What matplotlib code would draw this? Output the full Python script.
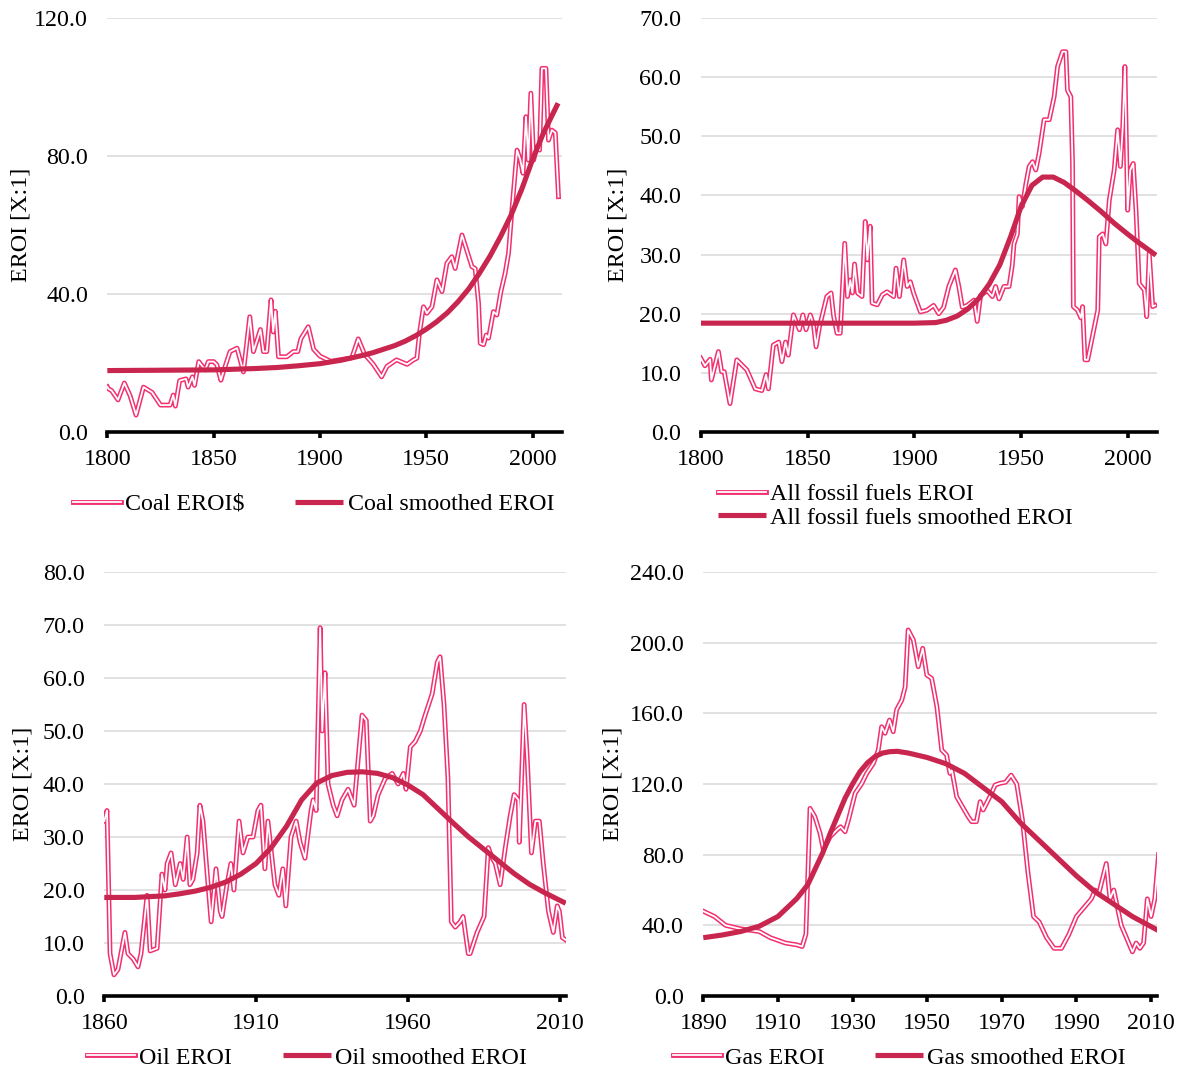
import matplotlib.pyplot as plt
import matplotlib.patheffects as pe
from matplotlib.ticker import FormatStrFormatter

plt.rcParams['font.family'] = ['Liberation Serif', 'DejaVu Serif']

RAW = '#f2306f'
SMOOTH = '#c8264f'
FS = 17.3

# ---- Coal ----
coal_years = [1800, 1800.5, 1802, 1805, 1808, 1810.7, 1813.5, 1817, 1821, 1825, 1829.5, 1831, 1832,
              1834, 1837, 1838, 1840, 1841, 1843, 1846, 1847.5, 1850, 1851.5, 1853.4, 1854.6, 1857.7,
              1861, 1864, 1867, 1868.7, 1870, 1872, 1873.4, 1875, 1877, 1878, 1879, 1880.5, 1884.4,
              1887.5, 1889.6, 1891, 1894.5, 1897, 1900, 1905, 1910, 1915, 1918, 1921, 1925, 1929,
              1931.5, 1936, 1941, 1944, 1945.6, 1946.8, 1948.7, 1950.3, 1952.7, 1955, 1957.4, 1959.7,
              1962, 1963.6, 1966.8, 1969, 1971.5, 1973, 1974.6, 1975.4, 1977, 1978.2, 1979.3, 1981.6,
              1983.2, 1985.1, 1987.1, 1988.7, 1990.3, 1992.7, 1994.2, 1995.5, 1996.9, 1998, 1999.2,
              2000.5, 2002, 2003.3, 2004.4, 2006.3, 2007.5, 2009.1, 2010.7, 2012.2]
coal_eroi = [13.1, 12.5, 12.0, 9.3, 14.2, 10.5, 4.9, 13.0, 11.5, 7.8, 7.8, 10.7, 7.5,
             14.9, 15.4, 13.0, 16.0, 13.5, 20.4, 18.0, 20.4, 20.4, 19.5, 15.0, 17.5, 23.3,
             24.3, 17.4, 33.4, 23.3, 25.8, 29.7, 23.3, 23.3, 38.3, 29.0, 35.0, 21.8, 21.8,
             23.3, 23.3, 27.0, 30.5, 24.0, 22.0, 20.5, 21.0, 21.5, 27.0, 22.5, 19.7, 16.0,
             19.0, 20.9, 19.6, 20.9, 21.4, 28.6, 36.3, 34.4, 36.3, 44.1, 40.7, 48.9,
             50.8, 47.4, 57.1, 52.8, 47.9, 47.4, 37.3, 25.7, 25.3, 28.1, 27.2, 34.9,
             33.9, 40.7, 46.0, 51.8, 64.3, 81.7, 79.0, 75.0, 91.4, 78.8, 98.2,
             78.8, 82.7, 81.7, 105.4, 105.4, 84.6, 87.5, 86.7, 68.2]
coal_smooth_years = [1800, 1850, 1870, 1880, 1890, 1900, 1910, 1920, 1925, 1930, 1935, 1940,
                     1945, 1950, 1955, 1960, 1965, 1970, 1975, 1980, 1985, 1990, 1995, 2000,
                     2005, 2010, 2012]
coal_smooth = [17.8, 18.0, 18.4, 18.7, 19.2, 19.8, 20.8, 22.2, 23.0, 24.0, 25.0, 26.3,
               27.9, 29.8, 32.0, 34.6, 37.8, 41.5, 46.0, 51.0, 56.7, 63.0, 70.5, 79.0,
               86.5, 92.8, 95.3]

# ---- All fossil fuels ----
fossil_years = [1800, 1802, 1804.4, 1805, 1808.3, 1809.8, 1811, 1813.7, 1816.9, 1821.6, 1825.5,
                1828.6, 1830.6, 1831.7, 1834, 1836.5, 1838, 1839.7, 1841, 1843.4, 1846.2, 1847.8,
                1849.3, 1851.3, 1852.8, 1854, 1855.6, 1859, 1861, 1862.2, 1863.8, 1865.3, 1867.4,
                1868.7, 1870, 1871, 1872, 1873.4, 1875.5, 1877, 1878, 1879.3, 1880.2, 1882.6,
                1885, 1887.2, 1890.3, 1891.4, 1893, 1895, 1896.6, 1898.1, 1899.7, 1902.8, 1905.9,
                1909, 1911.4, 1913.7, 1916.1, 1919.2, 1920.8, 1922.4, 1924.7, 1927.9, 1929.4,
                1931, 1934.1, 1936.5, 1938, 1939.6, 1941.9, 1944.3, 1945.8, 1946.6, 1948.2, 1949,
                1950.5, 1952.1, 1953.7, 1955.3, 1956.8, 1958.4, 1960.7, 1963.1, 1965.4, 1967,
                1969.3, 1970.9, 1971.6, 1973.2, 1974, 1974.4, 1976.3, 1977.9, 1978.7, 1979.8,
                1981.1, 1985.8, 1986.5, 1988.1, 1989.6, 1991.2, 1993.5, 1995.1, 1996.4, 1997.5,
                1998.5, 1999.8, 2001, 2002.4, 2003.7, 2005.2, 2007.6, 2008.7, 2009.9, 2011.5, 2012.6]
fossil_eroi = [12.5, 11.2, 12.3, 8.8, 13.6, 10.2, 10.2, 4.8, 12.2, 10.5, 7.3,
               7.0, 9.7, 7.3, 14.7, 15.2, 11.9, 15.2, 13.0, 19.8, 17.3, 19.8,
               17.3, 19.8, 18.1, 14.4, 17.8, 22.9, 23.5, 19.6, 16.7, 16.7, 31.9,
               22.9, 25.7, 23.5, 28.4, 23.5, 22.9, 35.6, 29.1, 34.8, 21.8, 21.5,
               23.2, 23.7, 22.9, 27.7, 22.9, 29.1, 24.6, 25.4, 23.4, 20.3, 20.6,
               21.4, 20.0, 21.1, 24.6, 27.4, 24.6, 21.1, 21.4, 22.3, 18.7,
               23.1, 23.9, 22.9, 24.6, 22.5, 24.6, 24.6, 28.2, 31.8, 33.5, 39.8,
               38.1, 41.8, 44.9, 45.7, 44.3, 47.2, 52.8, 52.8, 56.7, 61.8,
               64.3, 64.3, 57.8, 56.7, 45.4, 21.2, 20.6, 19.3, 21.2, 12.2,
               12.2, 20.6, 33.0, 33.5, 31.8, 39.2, 44.3, 51.1, 44.9, 51.6,
               61.8, 37.5, 44.3, 45.4, 37.5, 25.1, 24.0, 19.5, 30.2, 21.2, 21.4]
fossil_smooth_years = [1800, 1850, 1900, 1910, 1915, 1920, 1925, 1930, 1935, 1940, 1945, 1950,
                       1955, 1960, 1965, 1970, 1975, 1981, 1987, 1993.5, 2000, 2005, 2013]
fossil_smooth = [18.4, 18.4, 18.4, 18.5, 18.9, 19.6, 20.8, 22.5, 25.0, 28.3, 33.0, 38.2,
                 41.7, 43.1, 43.1, 42.2, 40.9, 39.2, 37.4, 35.3, 33.4, 32.0, 29.9]

# ---- Oil ----
oil_years = [1860, 1860.9, 1861.9, 1863.2, 1864.5, 1866.8, 1867.8, 1869.5, 1871.1, 1872.1, 1874.1,
             1875.1, 1877.4, 1879, 1880, 1880.7, 1882, 1883.4, 1885, 1886, 1887.3, 1888.2, 1889.2,
             1890.6, 1891.5, 1892.5, 1893.9, 1895.2, 1896.8, 1898.2, 1898.8, 1900.4, 1901.7, 1902.7,
             1904.4, 1905.7, 1907.3, 1909, 1910.6, 1911.6, 1912.9, 1913.9, 1916.2, 1917.5, 1918.8,
             1919.8, 1921.5, 1923.2, 1924.5, 1926.1, 1928.1, 1928.8, 1929.8, 1931.1, 1931.8, 1932.7,
             1933.7, 1935.4, 1936.7, 1938.3, 1940.3, 1942.3, 1944.9, 1946.3, 1947.6, 1948.6, 1950.2,
             1952.5, 1954.8, 1956.8, 1958.5, 1959.4, 1960.8, 1962.4, 1964.1, 1965.7, 1968, 1969.7,
             1970.6, 1971.9, 1973.2, 1974.3, 1975.6, 1977.2, 1978.2, 1979.9, 1980.5, 1982.8, 1985.1,
             1986.5, 1987.8, 1988.8, 1990.4, 1992.1, 1993.7, 1995, 1996.4, 1996.7, 1998.3, 1999.3,
             2000.7, 2002, 2003.3, 2004.6, 2006.3, 2007.9, 2009.2, 2009.9, 2010.9, 2012.2]
oil_eroi = [33, 35, 8, 4, 5, 12, 8, 7, 5.5, 8, 19,
            8.5, 9, 23, 20, 25, 27, 21, 25, 22, 30, 21, 22,
            27, 36, 33, 23, 14, 24, 16, 15, 21, 25, 20,
            33, 27, 30, 30, 35, 36, 24, 33, 21, 19, 24,
            17, 30, 33, 29, 26, 35, 37, 35, 69.5, 50, 61,
            40, 36, 34, 37, 39, 36, 53, 52, 33, 34, 38,
            41, 42, 40, 42, 39, 47, 48, 50, 53, 57, 63,
            64, 55, 41, 14, 13, 14, 15, 8, 8, 12, 15,
            28, 26, 25, 21, 28, 34, 38, 37, 29, 55, 45,
            27, 33, 33, 25, 16, 12, 17, 16, 11, 10.5]
oil_smooth_years = [1860, 1870, 1880, 1885, 1890, 1895, 1900, 1905, 1910, 1915, 1920, 1925, 1930,
                    1935, 1940, 1945, 1950, 1955, 1960, 1965, 1970, 1975, 1980, 1985, 1990, 1995,
                    2000, 2005, 2012]
oil_smooth = [18.6, 18.6, 18.9, 19.3, 19.8, 20.5, 21.5, 23.0, 25.0, 28.0, 32.0, 37.0, 40.2,
              41.6, 42.2, 42.3, 42.0, 41.2, 39.8, 38.0, 35.3, 32.6, 30.0, 27.7, 25.4, 23.1,
              21.1, 19.5, 17.5]

# ---- Gas ----
gas_years = [1890, 1893, 1896, 1900, 1905, 1908, 1912, 1915, 1916.5, 1917.5, 1918.6, 1919.9, 1921.3,
             1922.2, 1924, 1925.8, 1926.8, 1928, 1928.9, 1930.7, 1932.5, 1933.8, 1935.6, 1936.9,
             1937.8, 1938.7, 1939.9, 1940.9, 1941.8, 1943.2, 1944.1, 1944.9, 1946.3, 1947.6, 1948.8,
             1949.9, 1951.2, 1952.6, 1953.9, 1955.2, 1956.1, 1956.6, 1957.9, 1959.7, 1961, 1961.9,
             1963.2, 1964.2, 1965, 1966.8, 1968.2, 1969.5, 1971, 1972.5, 1974, 1975.5, 1977, 1978.5,
             1980, 1982, 1984, 1986, 1988, 1990, 1992, 1994, 1995, 1996, 1998, 1999, 2000, 2001,
             2002, 2003, 2004, 2005, 2006, 2007, 2008, 2009, 2010, 2011, 2012]
gas_eroi = [48, 45, 40, 38, 36.5, 33, 30, 29, 28, 35, 106.2, 101.5, 92,
            82.6, 90.2, 94, 95.8, 93, 99.6, 114.7, 120.4, 126, 131.7, 139.2,
            152.4, 148.7, 156.2, 149.6, 162, 167.5, 175, 207.2, 201.5, 186.4, 196.8,
            181.7, 179.8, 163.8, 139.2, 136.4, 126, 128, 112.8, 106.2, 101.5, 98.7,
            98.7, 110, 105.3, 112.8, 119.4, 120.4, 121, 125, 120, 100, 70, 45,
            42, 33, 27, 27, 35, 45, 50, 55, 60, 58, 75, 55, 60, 50,
            40, 35, 30, 25, 30, 27, 30, 55, 45, 55, 80]
gas_smooth_years = [1890, 1895, 1900, 1905, 1910, 1915, 1918, 1920, 1922, 1924, 1926, 1928, 1930,
                    1932, 1934, 1936, 1938, 1940, 1942, 1945, 1950, 1955, 1960, 1965, 1970, 1975,
                    1980, 1985, 1990, 1995, 2000, 2005, 2012]
gas_smooth = [33, 34.5, 36.5, 39.5, 45, 55, 63, 72, 81, 92, 102, 112, 120,
              127, 132, 135.5, 137.5, 138.3, 138.5, 137.5, 135, 131.5, 126, 118, 110, 98,
              88, 78, 68, 59, 52, 45, 37]

raw_fx = [pe.Stroke(linewidth=3.5, foreground=RAW), pe.Normal()]


def panel(ax, yrs, vals, syrs, svals, labels, xlim, xticks, ylim, yticks, fmt,
          ylab_x, leg_anchor, leg_ncol):
    ax.plot(yrs, vals, color='white', lw=1.3, path_effects=raw_fx, label=labels[0],
            solid_joinstyle='round', zorder=3)
    ax.plot(syrs, svals, color=SMOOTH, lw=3.7, label=labels[1], solid_capstyle='butt',
            solid_joinstyle='round', zorder=4)
    ax.set_xlim(*xlim)
    ax.set_ylim(*ylim)
    ax.set_xticks(xticks)
    ax.set_yticks(yticks)
    ax.yaxis.set_major_formatter(FormatStrFormatter(fmt))
    ax.grid(axis='y', color='#d9d9d9', lw=1.1)
    ax.set_axisbelow(True)
    for s in ['left', 'right', 'top']:
        ax.spines[s].set_visible(False)
    ax.spines['bottom'].set_linewidth(2.6)
    ax.spines['bottom'].set_zorder(5)
    ax.tick_params(axis='x', length=4, width=2.6, direction='out', pad=8.5, labelsize=FS)
    ax.tick_params(axis='y', length=0, pad=14, labelsize=FS)
    ax.set_ylabel('EROI [X:1]', fontsize=FS)
    ax.yaxis.set_label_coords(ylab_x, 0.5)
    ax.legend(loc='center left', bbox_to_anchor=leg_anchor, ncol=leg_ncol, frameon=False,
              fontsize=FS, handlelength=2.0, handletextpad=0.17, columnspacing=2.1,
              borderpad=0, borderaxespad=0, labelspacing=0.05)


fig = plt.figure(figsize=(11.81, 10.77), dpi=100)
ax1 = fig.add_axes([0.0909, 0.5989, 0.3847, 0.3844])
ax2 = fig.add_axes([0.5933, 0.5989, 0.3867, 0.3844])
ax3 = fig.add_axes([0.0883, 0.0752, 0.3910, 0.3937])
ax4 = fig.add_axes([0.5955, 0.0752, 0.3839, 0.3937])

panel(ax1, coal_years, coal_eroi, coal_smooth_years, coal_smooth,
      ['Coal EROI$', 'Coal smoothed EROI'], (1800, 2013.7), [1800, 1850, 1900, 1950, 2000],
      (0, 120), [0, 40, 80, 120], '%.1f', -0.168, (-0.075, -0.174), 2)
panel(ax2, fossil_years, fossil_eroi, fossil_smooth_years, fossil_smooth,
      ['All fossil fuels EROI', 'All fossil fuels smoothed EROI'], (1800, 2013.7),
      [1800, 1850, 1900, 1950, 2000], (0, 70), list(range(0, 71, 10)), '%.1f', -0.157,
      (0.038, -0.179), 1)
panel(ax3, oil_years, oil_eroi, oil_smooth_years, oil_smooth,
      ['Oil EROI', 'Oil smoothed EROI'], (1860, 2012.1), [1860, 1910, 1960, 2010],
      (0, 80), list(range(0, 81, 10)), '%.1f', -0.154, (-0.037, -0.146), 2)
panel(ax4, gas_years, gas_eroi, gas_smooth_years, gas_smooth,
      ['Gas EROI', 'Gas smoothed EROI'], (1890, 2011.5), list(range(1890, 2011, 20)),
      (0, 240), list(range(0, 241, 40)), '%.1f', -0.177, (-0.067, -0.146), 2)

fig.savefig('out.png', dpi=100)
